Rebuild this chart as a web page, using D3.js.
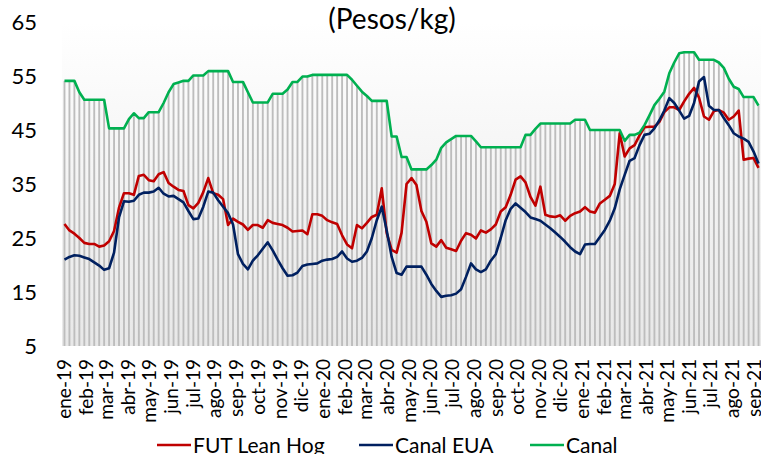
<!DOCTYPE html>
<html>
<head>
<meta charset="utf-8">
<script src="https://cdn.jsdelivr.net/npm/d3@7"></script>
<style>
  body { margin: 0; background: #fff; }
  svg text { font-family: Lato, "Open Sans", sans-serif; fill: #000; }
</style>
</head>
<body>
<svg id="chart" width="761" height="454"></svg>
<script>
// semanal, ene-2019 a sep-2021
var canal = [
  54.1, 54.1, 54.1, 52.0, 50.6, 50.6, 50.6, 50.6, 50.6, 45.3,
  45.3, 45.3, 45.3, 47.0, 48.1, 47.2, 47.2, 48.3, 48.3, 48.3,
  50.0, 52.0, 53.5, 53.8, 54.1, 54.1, 55.1, 55.1, 55.1, 55.9,
  55.9, 55.9, 55.9, 55.9, 53.9, 53.9, 53.9, 52.0, 50.1, 50.1,
  50.1, 50.1, 51.7, 51.7, 51.7, 52.5, 53.9, 53.9, 54.9, 54.9,
  55.2, 55.2, 55.2, 55.2, 55.2, 55.2, 55.2, 55.2, 54.3, 53.2,
  52.1, 51.3, 50.4, 50.4, 50.4, 50.4, 43.8, 43.8, 40.0, 40.0,
  37.7, 37.7, 37.7, 37.7, 38.5, 39.5, 41.7, 42.7, 43.3, 43.9,
  43.9, 43.9, 43.9, 42.9, 41.8, 41.8, 41.8, 41.8, 41.8, 41.8,
  41.8, 41.8, 41.8, 44.1, 44.1, 45.2, 46.2, 46.2, 46.2, 46.2,
  46.2, 46.2, 46.2, 46.9, 46.9, 46.9, 45.0, 45.0, 45.0, 45.0,
  45.0, 45.0, 45.0, 43.0, 44.1, 44.1, 44.5, 45.9, 47.7, 49.6,
  50.8, 52.1, 55.5, 57.5, 59.2, 59.4, 59.4, 59.4, 58.0, 58.0,
  58.0, 58.0, 57.5, 56.5, 54.5, 53.0, 52.6, 51.1, 51.1, 51.1,
  49.5
]

var futLeanHog = [
  27.6, 26.4, 25.8, 25.0, 24.1, 23.9, 23.9, 23.4, 23.6, 24.4,
  26.3, 30.6, 33.3, 33.3, 33.0, 36.5, 36.7, 35.7, 35.5, 36.8,
  37.2, 35.2, 34.5, 33.9, 33.7, 31.1, 30.5, 31.5, 33.5, 36.1,
  33.3, 33.0, 32.2, 27.4, 28.6, 28.0, 27.5, 26.5, 27.4, 27.4,
  26.9, 28.3, 27.8, 27.6, 27.4, 26.9, 26.2, 26.3, 26.4, 25.7,
  29.4, 29.4, 29.1, 28.3, 27.9, 27.6, 25.5, 23.8, 23.1, 27.4,
  26.8, 27.8, 28.9, 29.3, 34.2, 25.9, 22.8, 22.3, 26.0, 35.0,
  36.1, 34.8, 30.0, 28.0, 24.0, 23.4, 24.6, 23.2, 22.9, 22.6,
  24.5, 25.9, 25.6, 24.9, 26.4, 26.0, 26.6, 27.5, 29.9, 30.7,
  33.0, 35.8, 36.4, 35.3, 32.6, 31.0, 34.5, 29.3, 29.0, 28.9,
  29.2, 28.2, 29.1, 29.6, 29.9, 30.7, 29.9, 29.7, 31.4, 32.1,
  32.8, 35.0, 44.4, 40.1, 41.6, 42.2, 44.0, 45.5, 45.6, 45.6,
  46.5, 48.3, 49.2, 49.2, 48.7, 50.3, 51.7, 52.8, 51.0, 47.5,
  46.9, 48.5, 48.7, 48.2, 46.9, 47.5, 48.6, 39.5, 39.7, 39.8,
  38.0
]

var canalEUA = [
  21.0, 21.5, 21.8, 21.7, 21.4, 21.1, 20.5, 19.9, 19.1, 19.4,
  22.3, 28.8, 31.8, 31.7, 31.9, 33.0, 33.4, 33.4, 33.6, 34.3,
  33.2, 32.7, 32.8, 32.2, 31.6, 30.0, 28.5, 28.6, 30.8, 33.6,
  33.4, 32.0, 30.8, 29.6, 27.5, 22.0, 20.2, 19.2, 20.8, 21.8,
  23.0, 24.2, 22.7, 21.0, 19.4, 18.0, 18.1, 18.6, 19.8, 20.1,
  20.2, 20.3, 20.8, 21.0, 21.1, 21.5, 22.5, 21.2, 20.6, 20.8,
  21.3, 22.5, 25.0, 28.3, 30.8, 26.4, 21.5, 18.5, 18.2, 19.7,
  19.7, 19.7, 19.7, 18.2, 16.5, 15.2, 14.1, 14.3, 14.4, 14.7,
  15.5, 17.8, 20.3, 19.2, 18.7, 19.2, 20.8, 22.0, 25.0, 28.3,
  30.4, 31.4, 30.6, 29.8, 28.8, 28.5, 28.2, 27.5, 26.8, 26.0,
  25.2, 24.3, 23.3, 22.5, 22.0, 23.8, 23.9, 23.9, 25.2, 26.5,
  28.2, 30.5, 34.0, 36.7, 39.3, 39.8, 42.2, 44.1, 44.3, 45.3,
  46.8, 48.6, 50.9, 50.0, 48.6, 47.1, 47.6, 50.0, 54.0, 54.8,
  49.5, 48.7, 48.7, 47.2, 45.9, 44.4, 43.8, 43.4, 42.8, 41.0,
  38.8
]

var monthLabels = [
  'ene-19', 'feb-19', 'mar-19', 'abr-19', 'may-19', 'jun-19', 'jul-19', 'ago-19', 'sep-19', 'oct-19', 'nov-19', 'dic-19',
  'ene-20', 'feb-20', 'mar-20', 'abr-20', 'may-20', 'jun-20', 'jul-20', 'ago-20', 'sep-20', 'oct-20', 'nov-20', 'dic-20',
  'ene-21', 'feb-21', 'mar-21', 'abr-21', 'may-21', 'jun-21', 'jul-21', 'ago-21', 'sep-21'
]

var yTicks = [5, 15, 25, 35, 45, 55, 65]

var series = [
  {name: 'FUT Lean Hog', values: futLeanHog, color: '#c00000'},
  {name: 'Canal EUA', values: canalEUA, color: '#002060'},
  {name: 'Canal', values: canal, color: '#00b050'}
]

;(function (d3) {
  var svg = d3.select('#chart')
  var pLeft = 62, pRight = 761, pTop = 22, pBottom = 346
  var n = canal.length

  var x = d3.scaleBand().domain(d3.range(n)).range([pLeft, pRight]).padding(0)
  var xw = d3.scaleLinear().domain([0, n]).range([pLeft, pRight])
  var y = d3.scaleLinear().domain([5, 65]).range([pBottom, pTop])

  var defs = svg.append('defs')
  var grad = defs.append('linearGradient')
    .attr('id', 'bg').attr('x1', 0).attr('y1', 0).attr('x2', 0).attr('y2', 1)
  grad.append('stop').attr('offset', '0%').attr('stop-color', '#ffffff')
  grad.append('stop').attr('offset', '100%').attr('stop-color', '#e8e8e8')

  svg.append('rect')
    .attr('x', pLeft).attr('y', pTop)
    .attr('width', pRight - pLeft).attr('height', pBottom - pTop)
    .attr('fill', 'url(#bg)')

  // barras de fondo (Canal)
  var bw = x.bandwidth() * 0.38
  svg.append('g')
    .selectAll('rect')
    .data(canal)
    .enter()
    .append('rect')
    .attr('x', function (d, i) { return x(i) + x.bandwidth() / 2 - bw / 2 })
    .attr('y', function (d) { return y(d) })
    .attr('width', bw)
    .attr('height', function (d) { return pBottom - y(d) })
    .attr('fill', '#bdbdbd')

  var line = d3.line()
    .x(function (d, i) { return x(i) + x.bandwidth() / 2 })
    .y(function (d) { return y(d) })

  svg.append('g')
    .selectAll('path')
    .data(series)
    .enter()
    .append('path')
    .attr('d', function (s) { return line(s.values) })
    .attr('fill', 'none')
    .attr('stroke', function (s) { return s.color })
    .attr('stroke-width', 2.6)
    .attr('stroke-linejoin', 'round')

  // eje Y
  svg.append('g')
    .selectAll('text')
    .data(yTicks)
    .enter()
    .append('text')
    .attr('x', 37)
    .attr('y', function (d) { return y(d) })
    .attr('dy', '0.36em')
    .attr('text-anchor', 'end')
    .style('font-size', '22px')
    .text(function (d) { return d })

  // eje X (meses)
  var start = new Date(2019, 0, 1)
  svg.append('g')
    .selectAll('text')
    .data(monthLabels)
    .enter()
    .append('text')
    .attr('transform', function (d, k) {
      var dt = new Date(2019 + Math.floor(k / 12), k % 12, 1)
      var wk = (dt - start) / (7 * 86400000)
      return 'translate(' + xw(wk + 0.5) + ',359) rotate(-90)'
    })
    .attr('dy', '0.36em')
    .attr('text-anchor', 'end')
    .style('font-size', '19px')
    .text(function (d) { return d })

  // titulo
  svg.append('text')
    .attr('x', 392)
    .attr('y', 29)
    .attr('text-anchor', 'middle')
    .style('font-size', '28px')
    .text('(Pesos/kg)')

  // leyenda
  var legX = [157, 359, 530]
  var leg = svg.append('g')
    .selectAll('g')
    .data(series)
    .enter()
    .append('g')
    .attr('transform', function (s, i) { return 'translate(' + legX[i] + ',445)' })
  leg.append('line')
    .attr('x1', 0).attr('x2', 34)
    .attr('stroke', function (s) { return s.color })
    .attr('stroke-width', 2.6)
  leg.append('text')
    .attr('x', 36)
    .attr('dy', '0.36em')
    .style('font-size', '21px')
    .text(function (s) { return s.name })
})(window.d3)
</script>
</body>
</html>
